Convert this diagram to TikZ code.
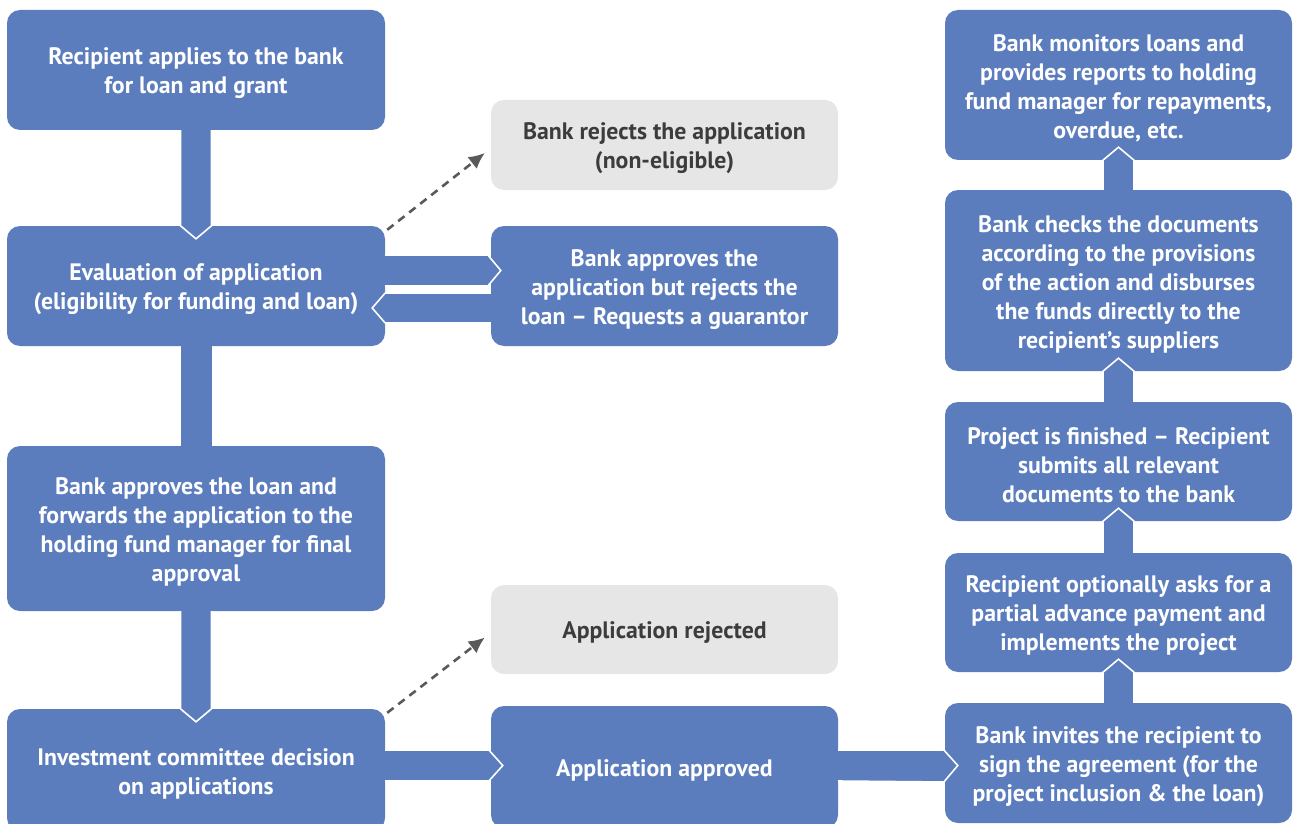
\documentclass[tikz,border=0pt]{standalone}
\usepackage{fontspec}
\setmainfont{PT Sans}
\usetikzlibrary{calc,arrows.meta}
\definecolor{boxblue}{HTML}{5B7DBE}
\definecolor{boxgray}{HTML}{E6E6E6}
\definecolor{graytext}{HTML}{3C3C3C}
\definecolor{dashgray}{HTML}{595959}
\tikzset{
  box/.style={rectangle, rounded corners=13pt, fill=boxblue, inner sep=0pt},
  graybox/.style={box, fill=boxgray},
  txt/.style={text=white, font=\bfseries\fontsize{23.8}{29}\selectfont, align=center, inner sep=0pt},
  graytxt/.style={txt, text=graytext},
  colL/.style={minimum width=378pt},
  colM/.style={minimum width=347pt},
  colR/.style={minimum width=347pt},
  conn/.style={fill=boxblue, draw=white, line width=1.6pt, line join=miter},
  dasharrow/.style={draw=dashgray, line width=2.6pt, dash pattern=on 8pt off 6pt,
    -{Latex[length=16pt,width=15pt]}}
}
\begin{document}
\begin{tikzpicture}[x=1pt,y=-1pt]
\useasboundingbox (0,0) rectangle (1293,824);
% left column
\node[box,colL,minimum height=120pt] (A1) at (196,70) {};
\node[box,colL,minimum height=120pt] (A2) at (196,286) {};
\node[box,colL,minimum height=165pt] (A3) at (196,528.5) {};
\node[box,colL,minimum height=122pt] (A4) at (196,770) {};
% middle column
\node[graybox,colM,minimum height=90pt] (M1) at (664.5,145) {};
\node[box,colM,minimum height=120pt] (M2) at (664.5,286) {};
\node[graybox,colM,minimum height=89pt] (M3) at (664.5,629.5) {};
\node[box,colM,minimum height=122pt] (M4) at (664.5,767) {};
% right column
\node[box,colR,minimum height=150pt] (R1) at (1118.5,85) {};
\node[box,colR,minimum height=181pt] (R2) at (1118.5,280.5) {};
\node[box,colR,minimum height=119pt] (R3) at (1118.5,461.5) {};
\node[box,colR,minimum height=119pt] (R4) at (1118.5,612.5) {};
\node[box,colR,minimum height=120pt] (R5) at (1118.5,763) {};
% texts
\node[txt] (A1t) at ($(A1.center)+(0,3.5)$) {Recipient applies to the bank\\for loan and grant};
\node[txt] (A2t) at ($(A2.center)+(0,3.5)$) {Evaluation of application\\(eligibility for funding and loan)};
\node[txt] (A3t) at ($(A3.center)+(0,3.5)$) {Bank approves the loan and\\forwards the application to the\\holding fund manager for final\\approval};
\node[txt] (A4t) at ($(A4.center)+(0,3.5)$) {Investment committee decision\\on applications};
\node[graytxt] (M1t) at ($(M1.center)+(0,3.5)$) {Bank rejects the application\\(non-eligible)};
\node[txt] (M2t) at ($(M2.center)+(0,3.5)$) {Bank approves the\\application but rejects the\\loan -- Requests a guarantor};
\node[graytxt] (M3t) at ($(M3.center)+(0,3.5)$) {Application rejected};
\node[txt] (M4t) at ($(M4.center)+(0,3.5)$) {Application approved};
\node[txt] (R1t) at ($(R1.center)+(0,3.5)$) {Bank monitors loans and\\provides reports to holding\\fund manager for repayments,\\overdue, etc.};
\node[txt] (R2t) at ($(R2.center)+(0,3.5)$) {Bank checks the documents\\according to the provisions\\of the action and disburses\\the funds directly to the\\recipient’s suppliers};
\node[txt] (R3t) at ($(R3.center)+(0,3.5)$) {Project is finished -- Recipient\\submits all relevant\\documents to the bank};
\node[txt] (R4t) at ($(R4.center)+(0,3.5)$) {Recipient optionally asks for a\\partial advance payment and\\implements the project};
\node[txt] (R5t) at ($(R5.center)+(0,3.5)$) {Bank invites the recipient to\\sign the agreement (for the\\project inclusion \& the loan)};
% vertical connectors, left column
\path[conn] ($(A1.south)+(-15.5,0)$) -- ($(A2.north)+(-15.5,0)$) -- ($(A2.north)+(0,13)$) -- ($(A2.north)+(15.5,0)$) -- ($(A1.south)+(15.5,0)$);
\fill[boxblue] ($(A2.south)+(-15.5,-1)$) rectangle ($(A3.north)+(15.5,1)$);
\path[conn] ($(A3.south)+(-15.5,0)$) -- ($(A4.north)+(-15.5,0)$) -- ($(A4.north)+(0,13)$) -- ($(A4.north)+(15.5,0)$) -- ($(A3.south)+(15.5,0)$);
% horizontal connectors
\path[conn] ($(A2.east)+(0,-31)$) -- ($(M2.west)+(-3,-31)$) -- ($(M2.west)+(10,-15.5)$) -- ($(M2.west)+(-3,0)$) -- ($(A2.east)+(0,0)$);
\path[conn] ($(M2.west)+(0,7)$) -- ($(A2.east)+(0,7)$) -- ($(A2.east)+(-13,22)$) -- ($(A2.east)+(0,37)$) -- ($(M2.west)+(0,37)$);
\path[conn] ($(A4.east)+(0,-20)$) -- ($(M4.west)+(-2,-17)$) -- ($(M4.west)+(12,-1.5)$) -- ($(M4.west)+(-2,14)$) -- ($(A4.east)+(0,11)$);
\path[conn] ($(M4.east)+(0,-17)$) -- ($(R5.west)+(-1,-13)$) -- ($(R5.west)+(13,2.5)$) -- ($(R5.west)+(-1,19)$) -- ($(M4.east)+(0,14)$);
% vertical connectors, right column (upwards)
\path[conn] ($(R5.north)+(-15.5,0)$) -- ($(R4.south)+(-15.5,0)$) -- ($(R4.south)+(0,-13)$) -- ($(R4.south)+(15.5,0)$) -- ($(R5.north)+(15.5,0)$);
\path[conn] ($(R4.north)+(-15.5,0)$) -- ($(R3.south)+(-15.5,0)$) -- ($(R3.south)+(0,-13)$) -- ($(R3.south)+(15.5,0)$) -- ($(R4.north)+(15.5,0)$);
\path[conn] ($(R3.north)+(-15.5,0)$) -- ($(R2.south)+(-15.5,0)$) -- ($(R2.south)+(0,-13)$) -- ($(R2.south)+(15.5,0)$) -- ($(R3.north)+(15.5,0)$);
\path[conn] ($(R2.north)+(-15.5,0)$) -- ($(R1.south)+(-15.5,0)$) -- ($(R1.south)+(0,-13)$) -- ($(R1.south)+(15.5,0)$) -- ($(R2.north)+(15.5,0)$);
% dashed arrows
\coordinate (d1s) at ($(A2.north east)+(2,4)$);
\coordinate (d1e) at ($(M1.west)+(-6,8)$);
\draw[dasharrow] (d1s) -- (d1e);
\coordinate (d2s) at ($(A4.north east)+(2,4)$);
\coordinate (d2e) at ($(M3.west)+(-6,8)$);
\draw[dasharrow] (d2s) -- (d2e);
\end{tikzpicture}
\end{document}
